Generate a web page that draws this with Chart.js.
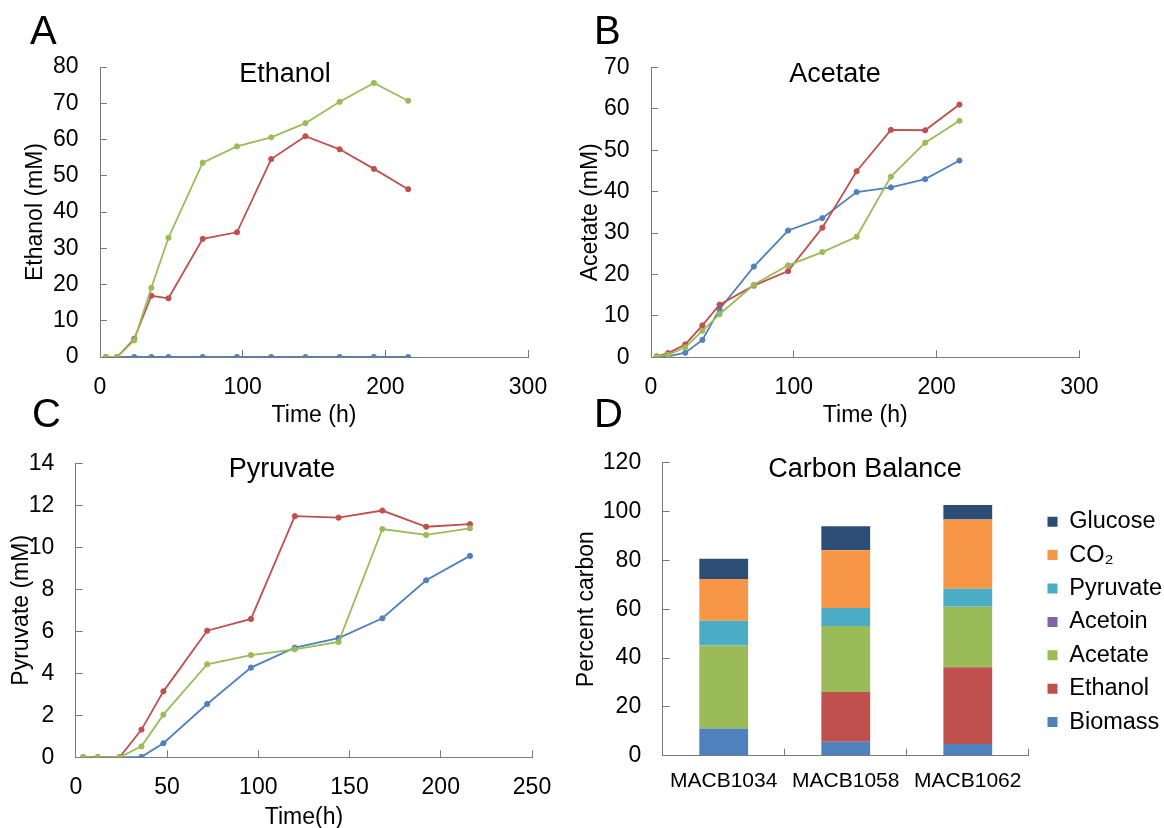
<!DOCTYPE html>
<html>
<head>
<meta charset="utf-8">
<script src="https://cdn.jsdelivr.net/npm/chart.js@4.4.1/dist/chart.umd.min.js"></script>
<style>
  html, body { margin: 0; padding: 0; background: #ffffff; width: 1164px; height: 828px; overflow: hidden; }
  canvas { position: absolute; left: 0; top: 0; }
</style>
</head>
<body>
<canvas id="chartA" width="1164" height="828"></canvas>
<canvas id="chartB" width="1164" height="828"></canvas>
<canvas id="chartC" width="1164" height="828"></canvas>
<canvas id="chartD" width="1164" height="828"></canvas>
<script>
// ---------------- DATA ----------------
const strainNames = ['MACB1034', 'MACB1058', 'MACB1062'];
const timeHours = [4, 12, 24, 36, 48, 72, 96, 120, 144, 168, 192, 216];

const ethanolMACB1034 = [0, 0, 0, 0, 0, 0, 0, 0, 0, 0, 0, 0];
const ethanolMACB1058 = [0, 0, 5.0, 16.9, 16.2, 32.6, 34.4, 54.6, 60.9, 57.3, 51.9, 46.3];
const ethanolMACB1062 = [0, 0, 4.6, 19.1, 32.9, 53.6, 58.1, 60.6, 64.5, 70.4, 75.6, 70.7];

const acetateMACB1034 = [0.2, 0.2, 1.1, 4.2, 11.6, 21.9, 30.6, 33.6, 39.9, 41.0, 43.0, 47.5];
const acetateMACB1058 = [0.2, 1.0, 3.1, 7.7, 12.7, 17.3, 20.8, 31.3, 44.9, 54.9, 54.8, 61.0];
const acetateMACB1062 = [0.2, 0.6, 2.4, 6.4, 10.4, 17.5, 22.2, 25.4, 29.1, 43.6, 51.8, 57.1];

const pyruvateMACB1034 = [0, 0, 0, 0.02, 0.67, 2.54, 4.27, 5.22, 5.68, 6.62, 8.43, 9.59];
const pyruvateMACB1058 = [0, 0, 0, 1.32, 3.14, 6.03, 6.59, 11.48, 11.41, 11.75, 10.98, 11.1];
const pyruvateMACB1062 = [0, 0, 0, 0.52, 2.03, 4.43, 4.87, 5.14, 5.49, 10.87, 10.59, 10.9];

// Carbon balance (percent carbon), stacked bottom -> top
const carbonLabels = ['Biomass', 'Ethanol', 'Acetate', 'Acetoin', 'Pyruvate', 'CO\u2082', 'Glucose'];
const carbonBiomass  = [11.1, 5.7, 4.8];
const carbonEthanol  = [0, 20.4, 31.4];
const carbonAcetate  = [34.0, 27.0, 24.8];
const carbonAcetoin  = [0, 0, 0];
const carbonPyruvate = [10.2, 7.4, 7.4];
const carbonCO2      = [17.1, 23.6, 28.3];
const carbonGlucose  = [8.3, 9.9, 6.0];

// ---------------- STYLE ----------------
const FONT = '"Liberation Sans", Arial, Helvetica, sans-serif';
Chart.defaults.font.family = FONT;
Chart.defaults.color = '#000000';
const AXIS = '#7a7a7a';
const C_BLUE = '#4F81BD', C_RED = '#C0504D', C_GREEN = '#9BBB59';

const panelText = {
  id: 'panelText',
  afterDraw(chart, args, o) {
    const ctx = chart.ctx;
    ctx.save();
    ctx.fillStyle = '#000';
    ctx.font = '40px ' + FONT;
    ctx.textAlign = 'left';
    ctx.textBaseline = 'alphabetic';
    ctx.fillText(o.letter, o.lx, o.ly);
    ctx.font = '27px ' + FONT;
    ctx.textAlign = 'center';
    ctx.textBaseline = 'middle';
    ctx.fillText(o.title, o.tx, o.ty);
    ctx.restore();
  }
};

function lineSet(label, data, color) {
  return {
    label, data: timeHours.map((t, i) => ({x: t, y: data[i]})),
    borderColor: color, backgroundColor: color,
    borderWidth: 1.8, pointRadius: 2.6, pointBorderWidth: 1,
    pointBackgroundColor: color, pointBorderColor: color, tension: 0
  };
}

function lineChart(id, sets, p) {
  return new Chart(document.getElementById(id), {
    type: 'line',
    data: { datasets: sets },
    plugins: [panelText],
    options: {
      responsive: false, animation: false, devicePixelRatio: 1,
      layout: { padding: p.pad },
      plugins: {
        legend: { display: false }, tooltip: { enabled: false },
        panelText: p.text
      },
      scales: {
        x: {
          type: 'linear', min: 0, max: p.xmax,
          ticks: { stepSize: p.xstep, padding: 24, font: { size: 23 }, color: '#000' },
          grid: { display: true, drawOnChartArea: false, tickLength: -7, color: AXIS },
          border: { display: true, color: AXIS, width: 1 },
          title: { display: true, text: p.xtitle, font: { size: 23 }, color: '#000', padding: 0 },
          afterFit(s) { s.height = p.hx; }
        },
        y: {
          min: 0, max: p.ymax,
          ticks: { stepSize: p.ystep, padding: 28.5, font: { size: 23 }, color: '#000' },
          grid: { display: true, drawOnChartArea: false, tickLength: -7, color: AXIS },
          border: { display: true, color: AXIS, width: 1 },
          title: { display: true, text: p.ytitle, font: { size: 23 }, color: '#000', padding: 0 },
          afterFit(s) { s.width = p.wy; }
        }
      }
    }
  });
}

// Panel A
lineChart('chartA', [
  lineSet('MACB1062', ethanolMACB1062, C_GREEN),
  lineSet('MACB1058', ethanolMACB1058, C_RED),
  lineSet('MACB1034', ethanolMACB1034, C_BLUE)
], {
  pad: { left: 22, top: 67, right: 636, bottom: 398.2 }, wy: 78, hx: 72.8,
  xmax: 300, xstep: 100, ymax: 80, ystep: 10,
  xtitle: 'Time (h)', ytitle: 'Ethanol (mM)',
  text: { letter: 'A', lx: 30, ly: 44, title: 'Ethanol', tx: 285, ty: 75 }
});

// Panel B
lineChart('chartB', [
  lineSet('MACB1062', acetateMACB1062, C_GREEN),
  lineSet('MACB1058', acetateMACB1058, C_RED),
  lineSet('MACB1034', acetateMACB1034, C_BLUE)
], {
  pad: { left: 577, top: 67.3, right: 84.6, bottom: 398.2 }, wy: 74, hx: 72.5,
  xmax: 300, xstep: 100, ymax: 70, ystep: 10,
  xtitle: 'Time (h)', ytitle: 'Acetate (mM)',
  text: { letter: 'B', lx: 594, ly: 44, title: 'Acetate', tx: 835, ty: 75 }
});

// Panel C
lineChart('chartC', [
  lineSet('MACB1062', pyruvateMACB1062, C_GREEN),
  lineSet('MACB1058', pyruvateMACB1058, C_RED),
  lineSet('MACB1034', pyruvateMACB1034, C_BLUE)
], {
  pad: { left: 8, top: 463.3, right: 632, bottom: -3.3 }, wy: 67.8, hx: 74,
  xmax: 250, xstep: 50, ymax: 14, ystep: 2,
  xtitle: 'Time(h)', ytitle: 'Pyruvate (mM)',
  text: { letter: 'C', lx: 32, ly: 427, title: 'Pyruvate', tx: 282, ty: 470 }
});

// Panel D
const carbonSeries = [carbonBiomass, carbonEthanol, carbonAcetate, carbonAcetoin, carbonPyruvate, carbonCO2, carbonGlucose];
const carbonColors = ['#4F81BD', '#C0504D', '#9BBB59', '#8064A2', '#4BACC6', '#F79646', '#2C4D75'];
new Chart(document.getElementById('chartD'), {
  type: 'bar',
  data: {
    labels: strainNames,
    datasets: carbonLabels.map((lab, i) => ({
      label: lab, data: carbonSeries[i], backgroundColor: carbonColors[i],
      borderWidth: 0, barPercentage: 0.4, categoryPercentage: 1
    }))
  },
  plugins: [panelText],
  options: {
    responsive: false, animation: false, devicePixelRatio: 1,
    layout: { padding: { left: 573, top: 462.7, right: 0, bottom: 27.3 } },
    plugins: {
      tooltip: { enabled: false },
      legend: {
        display: true, position: 'right', align: 'start', reverse: true, maxWidth: 126.4,
        title: { display: true, text: ' ', font: { size: 10, lineHeight: 1 }, padding: { top: 27.35, bottom: 0 } },
        labels: { boxWidth: 10, boxHeight: 10, padding: 9.9, color: '#000', font: { size: 23.5 } }
      },
      panelText: { letter: 'D', lx: 594, ly: 427, title: 'Carbon Balance', tx: 865, ty: 470 }
    },
    scales: {
      x: {
        stacked: true,
        ticks: { padding: 20.4, font: { size: 21 }, color: '#000' },
        grid: { display: true, drawOnChartArea: false, tickLength: -7, color: AXIS, offset: true },
        border: { display: true, color: AXIS, width: 1 },
        afterFit(s) { s.height = 45; }
      },
      y: {
        stacked: true, min: 0, max: 120,
        ticks: { stepSize: 20, padding: 28.5, font: { size: 23 }, color: '#000' },
        grid: { display: true, drawOnChartArea: false, tickLength: -7, color: AXIS },
        border: { display: true, color: AXIS, width: 1 },
        title: { display: true, text: 'Percent carbon', font: { size: 23 }, color: '#000', padding: 0 },
        afterFit(s) { s.width = 89.7; }
      },
      gap: {
        type: 'linear', position: 'right', display: true,
        ticks: { display: false }, grid: { display: false }, border: { display: false },
        afterFit(s) { s.width = 8.8; }
      }
    }
  }
});
</script>
</body>
</html>
